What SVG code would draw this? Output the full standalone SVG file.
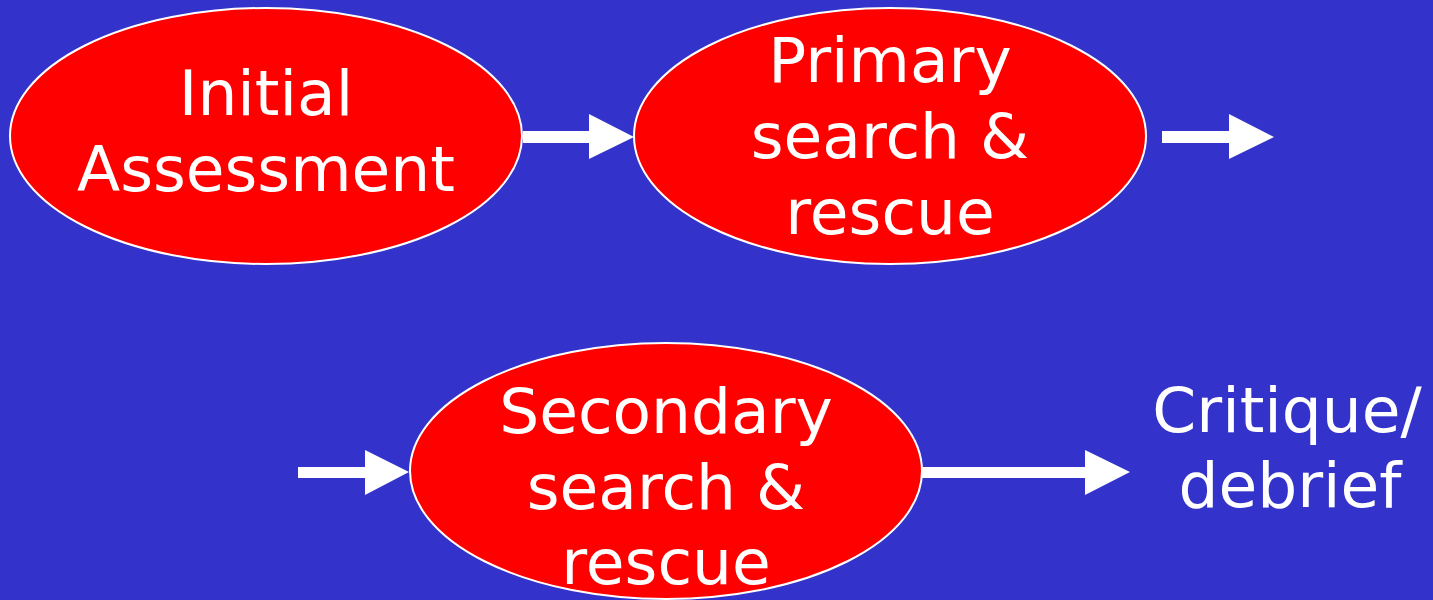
<svg xmlns="http://www.w3.org/2000/svg" width="1433" height="600" viewBox="0 0 1433 600">
  <style>
    .node { fill: #FF0000; stroke: #FFFFFF; stroke-width: 2; }
    .label { fill: #FFFFFF; font-family: "DejaVu Sans", Verdana, sans-serif; font-size: 63px; text-anchor: middle; }
    .arrow { fill: #FFFFFF; }
  </style>
  <rect x="0" y="0" width="1433" height="600" fill="#3333CC"/>
  <g id="connectors">
    <polygon class="arrow" points="523,131 589,131 589,114 634,137 589,159 589,143 523,143"/>
    <polygon class="arrow" points="1162,131 1229,131 1229,114 1274,137 1229,159 1229,143 1162,143"/>
    <polygon class="arrow" points="298,467 365,467 365,450 409,472 365,495 365,478 298,478"/>
    <polygon class="arrow" points="922,467 1085,467 1085,450 1130,472 1085,495 1085,478 922,478"/>
  </g>
  <g id="node-initial">
    <ellipse class="node" cx="266" cy="136" rx="256" ry="128"/>
    <text class="label" x="266" y="115">Initial</text>
    <text class="label" x="266" y="191">Assessment</text>
  </g>
  <g id="node-primary">
    <ellipse class="node" cx="890" cy="136" rx="256" ry="128"/>
    <text class="label" x="890" y="82">Primary</text>
    <text class="label" x="890" y="158">search &amp;</text>
    <text class="label" x="890" y="234">rescue</text>
  </g>
  <g id="node-secondary">
    <ellipse class="node" cx="666" cy="471" rx="256" ry="128"/>
    <text class="label" x="666" y="433">Secondary</text>
    <text class="label" x="666" y="509">search &amp;</text>
    <text class="label" x="666" y="584">rescue</text>
  </g>
  <g id="node-critique">
    <text class="label" x="1287" y="432">Critique/</text>
    <text class="label" x="1290" y="507">debrief</text>
  </g>
</svg>
